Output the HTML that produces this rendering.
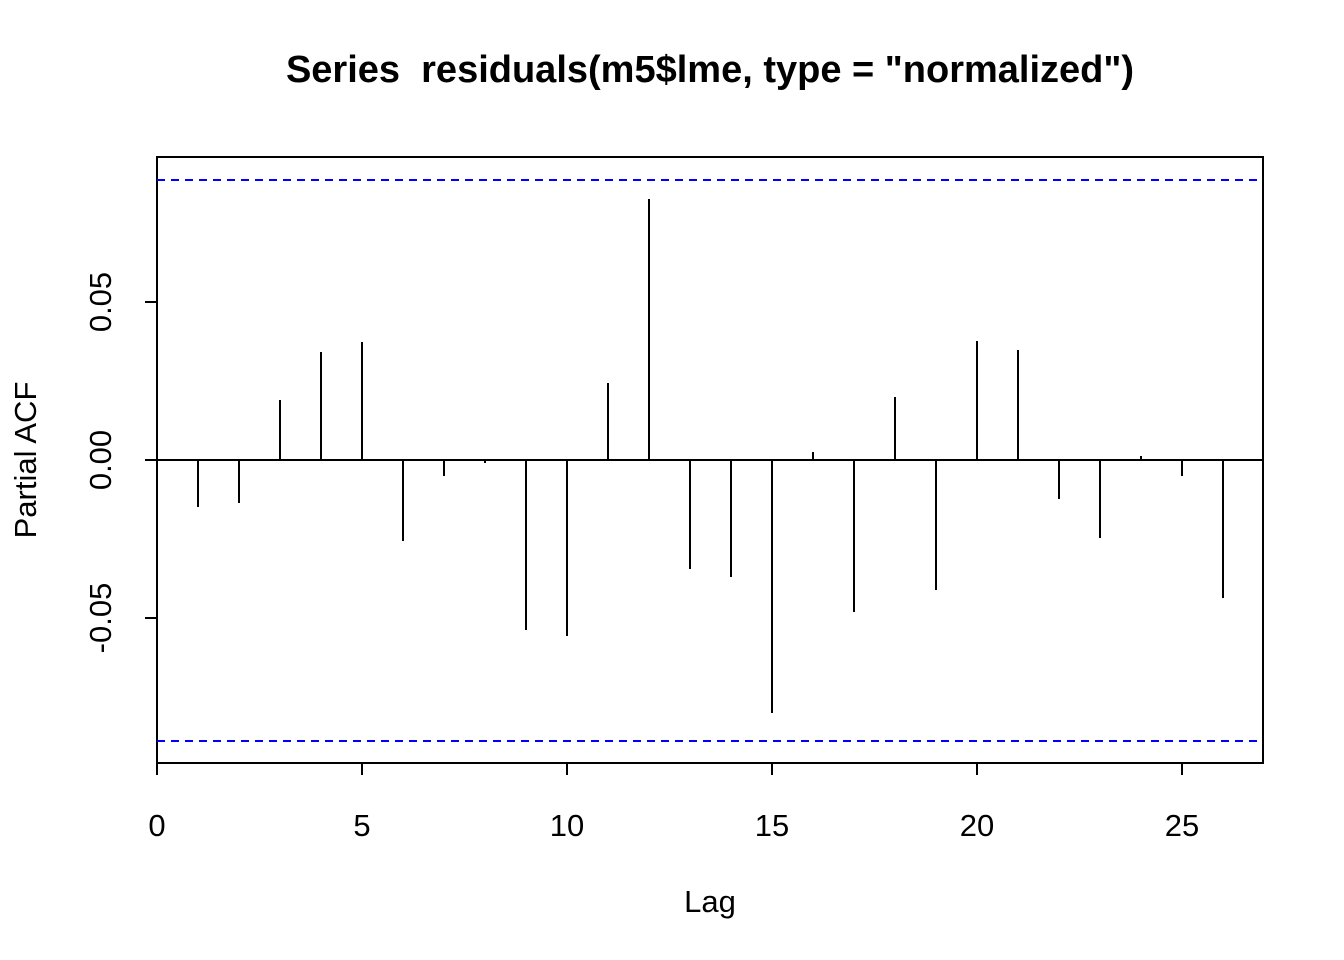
<!DOCTYPE html>
<html><head><meta charset="utf-8"><style>
html,body{margin:0;padding:0;background:#fff;}
svg{display:block;}
text{font-family:"Liberation Sans",Arial,sans-serif;fill:#000;}
</style></head><body>
<svg width="1344" height="960" viewBox="0 0 1344 960" xmlns="http://www.w3.org/2000/svg">
<rect x="0" y="0" width="1344" height="960" fill="#fff"/>
<text x="710" y="82" font-size="38" font-weight="bold" text-anchor="middle" xml:space="preserve">Series  residuals(m5$lme, type = "normalized")</text>
<rect x="157" y="157" width="1106" height="606" fill="none" stroke="#000" stroke-width="2"/>
<line x1="157" y1="460" x2="1263" y2="460" stroke="#000" stroke-width="2"/>
<line x1="157" y1="180" x2="1263" y2="180" stroke="#0000ff" stroke-width="2" stroke-dasharray="8,6"/>
<line x1="157" y1="741" x2="1263" y2="741" stroke="#0000ff" stroke-width="2" stroke-dasharray="8,6"/>
<g stroke="#000" stroke-width="2">
<line x1="198" y1="460" x2="198" y2="507"/>
<line x1="239" y1="460" x2="239" y2="503"/>
<line x1="280" y1="460" x2="280" y2="400"/>
<line x1="321" y1="460" x2="321" y2="352"/>
<line x1="362" y1="460" x2="362" y2="342"/>
<line x1="403" y1="460" x2="403" y2="541"/>
<line x1="444" y1="460" x2="444" y2="476"/>
<line x1="485" y1="460" x2="485" y2="463"/>
<line x1="526" y1="460" x2="526" y2="630"/>
<line x1="567" y1="460" x2="567" y2="636"/>
<line x1="608" y1="460" x2="608" y2="383"/>
<line x1="649" y1="460" x2="649" y2="199"/>
<line x1="690" y1="460" x2="690" y2="569"/>
<line x1="731" y1="460" x2="731" y2="577"/>
<line x1="772" y1="460" x2="772" y2="713"/>
<line x1="813" y1="460" x2="813" y2="452"/>
<line x1="854" y1="460" x2="854" y2="612"/>
<line x1="895" y1="460" x2="895" y2="397"/>
<line x1="936" y1="460" x2="936" y2="590"/>
<line x1="977" y1="460" x2="977" y2="341"/>
<line x1="1018" y1="460" x2="1018" y2="350"/>
<line x1="1059" y1="460" x2="1059" y2="499"/>
<line x1="1100" y1="460" x2="1100" y2="538"/>
<line x1="1141" y1="460" x2="1141" y2="456"/>
<line x1="1182" y1="460" x2="1182" y2="476"/>
<line x1="1223" y1="460" x2="1223" y2="598"/>
<line x1="157" y1="763" x2="157" y2="775"/>
<line x1="362" y1="763" x2="362" y2="775"/>
<line x1="567" y1="763" x2="567" y2="775"/>
<line x1="772" y1="763" x2="772" y2="775"/>
<line x1="977" y1="763" x2="977" y2="775"/>
<line x1="1182" y1="763" x2="1182" y2="775"/>
<line x1="157" y1="763" x2="1182" y2="763"/>
<line x1="157" y1="302" x2="145" y2="302"/>
<line x1="157" y1="460" x2="145" y2="460"/>
<line x1="157" y1="618" x2="145" y2="618"/>
<line x1="157" y1="302" x2="157" y2="618"/>
</g>
<g font-size="31" text-anchor="middle">
<text x="157" y="836">0</text>
<text x="362" y="836">5</text>
<text x="567" y="836">10</text>
<text x="772" y="836">15</text>
<text x="977" y="836">20</text>
<text x="1182" y="836">25</text>
<text x="111" y="302" transform="rotate(-90 111 302)">0.05</text>
<text x="111" y="460" transform="rotate(-90 111 460)">0.00</text>
<text x="111" y="618" transform="rotate(-90 111 618)">-0.05</text>
<text x="710" y="912">Lag</text>
<text x="36" y="460" transform="rotate(-90 36 460)">Partial ACF</text>
</g>
</svg>
</body></html>
